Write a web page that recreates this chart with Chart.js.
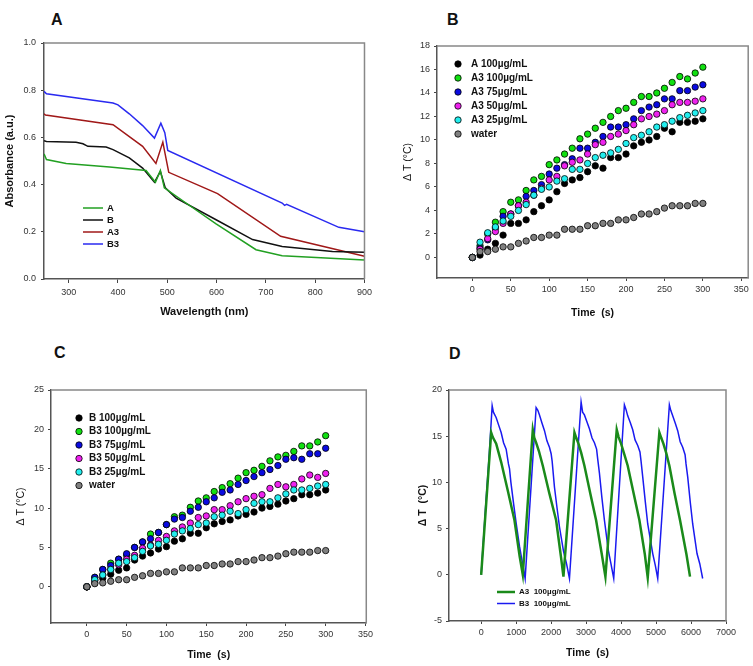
<!DOCTYPE html>
<html>
<head>
<meta charset="utf-8">
<script src="https://cdn.jsdelivr.net/npm/chart.js@4.4.0/dist/chart.umd.min.js"></script>
<style>
  body { margin: 0; background: #fff; width: 753px; height: 666px; position: relative; overflow: hidden; font-family: "Liberation Sans", Arial, sans-serif; }
  .pane { position: absolute; }
  .tag { position: absolute; font-weight: bold; font-size: 16px; color: #111; line-height: 1; }
</style>
</head>
<body>
<div class="tag" style="left:51px;top:12px">A</div>
<div class="tag" style="left:447px;top:12px">B</div>
<div class="tag" style="left:54px;top:345px">C</div>
<div class="tag" style="left:449px;top:346px">D</div>

<canvas class="pane" id="cA" width="376" height="325" style="left:0;top:0"></canvas>
<canvas class="pane" id="cB" width="377" height="325" style="left:376px;top:0"></canvas>
<canvas class="pane" id="cC" width="376" height="336" style="left:0;top:330px"></canvas>
<canvas class="pane" id="cD" width="377" height="336" style="left:376px;top:330px"></canvas>

<script>
// ---- panel A: absorbance spectra
const wlA  = [250, 255, 295, 383, 457, 476, 486, 494, 538, 599, 680, 733, 900];
const absA = [0.53, 0.506, 0.489, 0.475, 0.46, 0.41, 0.46, 0.386, 0.322, 0.234, 0.124, 0.099, 0.08];
const wlB  = [250, 255, 315, 329, 339, 376, 390, 423, 450, 474, 486, 496, 518, 599, 673, 733, 835, 900];
const absB = [0.586, 0.583, 0.579, 0.573, 0.562, 0.559, 0.548, 0.513, 0.47, 0.41, 0.456, 0.386, 0.343, 0.251, 0.167, 0.138, 0.117, 0.113];
const wlA3  = [250, 253, 390, 450, 477, 491, 503, 602, 730, 900];
const absA3 = [0.70, 0.695, 0.654, 0.562, 0.49, 0.58, 0.452, 0.362, 0.181, 0.096];
const wlB3  = [250, 255, 390, 400, 423, 450, 474, 487, 495, 501, 733, 738, 742, 848, 900];
const absB3 = [0.795, 0.785, 0.746, 0.738, 0.70, 0.65, 0.597, 0.66, 0.62, 0.545, 0.322, 0.312, 0.316, 0.219, 0.2];

// ---- panels B and C: heating curves, one point every 10 s
const timeS = [0, 10, 20, 30, 40, 50, 60, 70, 80, 90, 100, 110, 120, 130, 140, 150, 160, 170, 180, 190, 200, 210, 220, 230, 240, 250, 260, 270, 280, 290, 300];
const bA100  = [0, 0.2, 0.7, 1.2, 1.9, 2.9, 2.9, 3.2, 3.9, 4.4, 4.9, 5.6, 6.3, 6.6, 6.8, 7.3, 7.8, 7.6, 8.5, 8.5, 8.8, 9.5, 9.8, 10.0, 10.3, 11.0, 10.7, 11.5, 11.5, 11.6, 11.8];
const bA3100 = [0, 1.0, 2.0, 3.0, 3.9, 4.7, 4.9, 5.7, 6.6, 6.9, 7.9, 8.3, 8.8, 9.3, 10.1, 10.5, 11.0, 11.5, 12.0, 12.5, 12.7, 13.2, 13.7, 13.7, 14.0, 14.4, 14.9, 15.4, 15.2, 15.7, 16.2];
const bA375  = [0, 0.8, 1.5, 2.5, 3.5, 3.7, 4.4, 5.2, 5.7, 6.2, 7.1, 7.6, 7.9, 8.4, 9.3, 9.3, 9.8, 10.3, 11.1, 11.1, 11.3, 11.8, 12.5, 12.8, 13.0, 13.5, 13.5, 14.2, 14.2, 14.5, 14.7];
const bA350  = [0, 0.7, 1.6, 2.2, 2.9, 3.7, 4.4, 4.7, 5.3, 5.9, 6.6, 6.9, 7.8, 8.1, 8.3, 8.8, 9.6, 9.8, 10.3, 10.5, 10.8, 11.3, 11.8, 12.0, 12.2, 12.5, 13.0, 13.2, 13.2, 13.3, 13.5];
const bA325  = [0, 1.3, 2.1, 2.6, 3.1, 3.5, 4.0, 4.5, 5.3, 5.8, 6.0, 6.5, 6.7, 7.5, 7.5, 8.0, 8.5, 8.7, 8.9, 9.2, 9.7, 10.2, 10.4, 10.7, 11.1, 11.3, 11.6, 11.9, 12.1, 12.3, 12.5];
const water  = [0, 0.5, 0.5, 0.7, 0.9, 0.9, 1.2, 1.4, 1.7, 1.7, 1.9, 1.9, 2.4, 2.4, 2.4, 2.7, 2.7, 2.9, 2.9, 3.2, 3.2, 3.4, 3.7, 3.7, 3.9, 4.2, 4.4, 4.4, 4.4, 4.6, 4.6];

const cB100  = [0, 0.5, 1.1, 1.6, 2.1, 2.4, 3.4, 3.9, 4.3, 4.8, 5.1, 5.8, 6.1, 6.8, 6.8, 7.5, 8.0, 8.3, 8.5, 9.0, 9.2, 9.5, 10.0, 10.2, 10.5, 10.9, 11.2, 11.7, 11.7, 11.9, 12.3];
const cB3100 = [0, 1.2, 2.2, 3.0, 3.5, 4.0, 5.0, 5.7, 6.7, 6.9, 7.9, 8.9, 9.1, 10.1, 10.9, 11.3, 12.1, 12.6, 13.1, 13.8, 14.5, 14.8, 15.3, 16.0, 16.5, 16.7, 17.2, 17.9, 17.9, 18.4, 19.2];
const cB375  = [0, 1.2, 2.2, 2.7, 3.5, 4.2, 5.0, 5.7, 6.1, 6.9, 7.9, 8.6, 8.8, 9.6, 10.1, 10.8, 11.3, 12.0, 12.3, 13.0, 13.5, 14.0, 14.5, 14.9, 15.4, 16.2, 16.4, 16.2, 16.9, 16.9, 17.6];
const cB350  = [0, 0.8, 1.5, 2.2, 2.8, 3.5, 4.0, 4.9, 5.3, 5.9, 6.4, 7.1, 7.6, 8.1, 8.8, 9.0, 9.8, 9.8, 10.3, 10.8, 11.2, 11.5, 11.7, 12.5, 13.0, 12.7, 13.0, 13.7, 14.2, 13.9, 14.4];
const cB325  = [0, 0.9, 1.5, 2.2, 3.0, 3.2, 3.7, 4.5, 5.2, 5.4, 5.9, 6.7, 7.1, 7.4, 7.9, 8.1, 8.9, 9.1, 9.6, 9.3, 9.8, 10.6, 10.8, 10.8, 11.3, 11.8, 12.3, 12.3, 12.5, 12.8, 13.0];
const cWater = [0, 0.4, 0.5, 0.7, 0.9, 0.9, 1.2, 1.4, 1.7, 1.7, 1.9, 1.9, 2.4, 2.4, 2.4, 2.7, 2.7, 2.9, 2.9, 3.2, 3.2, 3.4, 3.7, 3.7, 3.9, 4.2, 4.4, 4.4, 4.4, 4.6, 4.6];

// ---- panel D: on/off cycles
const dTimeA3 = [0, 286, 330, 429, 500, 571, 762, 952, 1100, 1190,
  1476, 1520, 1571, 1650, 1762, 1950, 2143, 2280, 2352,
  2667, 2720, 2781, 2860, 2952, 3120, 3286, 3450, 3552,
  3876, 3930, 4000, 4080, 4190, 4360, 4524, 4680, 4762,
  5095, 5150, 5210, 5290, 5381, 5530, 5686, 5870, 5971];
const dTempA3 = [0, 15.4, 14.9, 14.2, 13.2, 12.2, 9.1, 5.9, 2.0, 0,
  15.7, 14.8, 14.3, 13.4, 11.8, 8.8, 5.9, 2.0, -0.2,
  15.4, 14.8, 14.2, 13.2, 11.8, 8.8, 5.9, 2.2, -0.2,
  15.7, 14.9, 14.2, 13.2, 11.8, 8.8, 5.9, 2.2, -0.3,
  15.4, 14.8, 14.2, 13.2, 11.8, 8.8, 5.9, 2.2, -0.2];
const dTimeB3 = [0, 120, 230, 314, 350, 430, 500, 571, 640, 714, 780, 810, 850, 930, 1000, 1095, 1180, 1257,
  1571, 1620, 1667, 1740, 1810, 1880, 1952, 2000, 2029, 2095, 2170, 2238, 2352, 2440, 2524,
  2857, 2900, 2952, 3020, 3095, 3170, 3238, 3300, 3333, 3381, 3450, 3524, 3638, 3710, 3790,
  4095, 4140, 4190, 4260, 4333, 4400, 4476, 4540, 4571, 4619, 4690, 4762, 4905, 4980, 5048,
  5381, 5420, 5476, 5550, 5619, 5690, 5762, 5830, 5857, 5905, 5980, 6048, 6171, 6250, 6333];
const dTempB3 = [0, 7.0, 13.0, 18.3, 17.6, 17.0, 16.2, 15.4, 14.3, 13.6, 12.0, 11.5, 10.0, 7.6, 5.6, 3.1, 1.3, -0.4,
  18.1, 17.8, 17.3, 16.4, 15.6, 14.5, 13.8, 13.1, 12.3, 9.5, 7.2, 5.2, 2.6, 1.2, -0.4,
  18.7, 17.6, 17.3, 16.6, 15.8, 14.8, 14.3, 13.6, 12.5, 11.0, 8.4, 5.9, 2.6, 1.2, -0.4,
  18.4, 17.9, 17.2, 16.5, 15.7, 14.6, 14.0, 13.3, 12.3, 10.6, 8.0, 5.5, 2.3, 1.0, -0.4,
  18.4, 17.8, 17.2, 16.4, 15.6, 14.4, 13.8, 13.0, 12.0, 10.6, 7.8, 5.5, 2.3, 1.2, -0.4];

// tick labels
const ticksA_x = [300, 400, 500, 600, 700, 800, 900];
const ticksA_y = [0, 0.2, 0.4, 0.6, 0.8, 1.0];
const ticksB_x = [0, 50, 100, 150, 200, 250, 300, 350];
const ticksB_y = [0, 2, 4, 6, 8, 10, 12, 14, 16, 18];
const ticksC_y = [0, 5, 10, 15, 20, 25];
const ticksD_x = [0, 1000, 2000, 3000, 4000, 5000, 6000, 7000];
const ticksD_y = [-5, 0, 5, 10, 15, 20];

const FONT = "'Liberation Sans', Arial, sans-serif";
const pts = (xs, ys) => xs.map((x, i) => ({ x: x, y: ys[i] }));

function axis(o) {
  return {
    type: 'linear', min: o.min, max: o.max,
    afterBuildTicks: s => { s.ticks = o.ticks.map(v => ({ value: v })); },
    afterFit: s => { if (o.w) s.width = o.w; if (o.h) s.height = o.h; },
    ticks: { font: { family: FONT, size: 9 }, color: '#333', padding: o.pad || 3, maxRotation: 0, autoSkip: false,
             callback: o.fmt || (v => v) },
    grid: { drawOnChartArea: false, drawTicks: true, tickLength: o.tl || 3, color: '#444' },
    border: { color: '#555', width: 1.5 },
    title: { display: true, text: o.title, color: '#111', padding: o.tpad,
             font: { family: FONT, size: o.ts || 10.5, weight: o.bold === false ? 'normal' : 'bold' } }
  };
}

// grey frame on top and right
const frame = {
  id: 'frame',
  afterDraw(c) {
    const a = c.chartArea, ctx = c.ctx;
    ctx.save();
    ctx.strokeStyle = '#888';
    ctx.lineWidth = 1.5;
    ctx.beginPath();
    ctx.moveTo(a.left, a.top); ctx.lineTo(a.right, a.top); ctx.lineTo(a.right, a.bottom);
    ctx.stroke();
    ctx.restore();
  }
};

// legend drawn inside the plot
const key = {
  id: 'key',
  afterDraw(c, args, o) {
    const ctx = c.ctx;
    ctx.save();
    ctx.font = o.font;
    ctx.textBaseline = 'middle';
    c.data.datasets.forEach((ds, i) => {
      const y = o.y + i * o.dy;
      if (o.line) {
        ctx.strokeStyle = ds.borderColor; ctx.lineWidth = ds.borderWidth;
        ctx.beginPath(); ctx.moveTo(o.x, y); ctx.lineTo(o.x + o.line, y); ctx.stroke();
      } else {
        ctx.beginPath(); ctx.arc(o.x, y, 3.2, 0, Math.PI * 2);
        ctx.fillStyle = ds.backgroundColor; ctx.fill();
        ctx.strokeStyle = '#000'; ctx.lineWidth = 0.8; ctx.stroke();
      }
      ctx.fillStyle = '#111';
      ctx.fillText(ds.label, o.tx, y);
    });
    ctx.restore();
  }
};

function lineSet(label, xs, ys, color, w) {
  return { label: label, data: pts(xs, ys), showLine: true, borderColor: color, backgroundColor: color,
           borderWidth: w, pointRadius: 0, tension: 0 };
}
function dotSet(label, ys, color, n, i) {
  return { label: label, data: pts(timeS, ys), backgroundColor: color, borderColor: '#000',
           borderWidth: 0.8, pointRadius: 3.2, order: n - 1 - i };
}

function makeChart(id, datasets, x, y, pad, legend) {
  return new Chart(document.getElementById(id), {
    type: 'scatter',
    data: { datasets: datasets },
    options: {
      responsive: false, animation: false,
      layout: { padding: pad },
      plugins: { legend: { display: false }, tooltip: { enabled: false }, key: legend },
      scales: { x: x, y: y }
    },
    plugins: [frame, key]
  });
}

// A
makeChart('cA', [
  lineSet('A', wlA, absA, '#22a022', 1.5),
  lineSet('B', wlB, absB, '#111111', 1.5),
  lineSet('A3', wlA3, absA3, '#a01818', 1.5),
  lineSet('B3', wlB3, absB3, '#2a2af0', 1.5)
],
  axis({ min: 250, max: 900, ticks: ticksA_x, title: 'Wavelength (nm)', ts: 11, h: 46, tl: 4, pad: 4, tpad: { top: 0, bottom: 6 } }),
  axis({ min: 0, max: 1.0, ticks: ticksA_y, title: 'Absorbance (a.u.)', ts: 11, w: 44, tl: 3, pad: 5, fmt: v => v.toFixed(1), tpad: { top: 3, bottom: 0 } }),
  { left: 0, top: 43, right: 10, bottom: 0 },
  { x: 83, tx: 107, y: 208, dy: 12, line: 20, font: "bold 9.5px " + FONT });

// B
const namesB = ['A 100µg/mL', 'A3 100µg/mL', 'A3 75µg/mL', 'A3 50µg/mL', 'A3 25µg/mL', 'water'];
const colors = ['#000000', '#11e011', '#0a0ae0', '#ee22ee', '#22eeee', '#808080'];
const seriesB = [bA100, bA3100, bA375, bA350, bA325, water];
makeChart('cB', seriesB.map((s, i) => dotSet(namesB[i], s, colors[i], 6, i)),
  axis({ min: -46, max: 359, ticks: ticksB_x, title: 'Time  (s)', h: 47, tpad: { top: 0, bottom: 6 } }),
  axis({ min: -1.75, max: 18, ticks: ticksB_y, title: 'Δ T (°C)', bold: false, w: 61, pad: 4, tpad: { top: 26, bottom: 0 } }),
  { left: 0, top: 46, right: 4, bottom: 0 },
  { x: 82, tx: 95, y: 64, dy: 14, font: "bold 10px " + FONT });

// C
const namesC = ['B 100µg/mL', 'B3 100µg/mL', 'B3 75µg/mL', 'B3 50µg/mL', 'B3 25µg/mL', 'water'];
const seriesC = [cB100, cB3100, cB375, cB350, cB325, cWater];
makeChart('cC', seriesC.map((s, i) => dotSet(namesC[i], s, colors[i], 6, i)),
  axis({ min: -45, max: 351, ticks: ticksB_x, title: 'Time  (s)', h: 43, tpad: { top: 0, bottom: 5 } }),
  axis({ min: -4.6, max: 25, ticks: ticksC_y, title: 'Δ T (°C)', bold: false, w: 51, pad: 4, tpad: { top: 15, bottom: 0 } }),
  { left: 0, top: 60, right: 1, bottom: 0 },
  { x: 79, tx: 89, y: 88, dy: 13.5, font: "bold 10px " + FONT });

// D
makeChart('cD', [
  lineSet('A3  100µg/mL', dTimeA3, dTempA3, '#1a8a1a', 2.5),
  lineSet('B3  100µg/mL', dTimeB3, dTempB3, '#1a1af0', 1.5)
],
  axis({ min: -920, max: 7000, ticks: ticksD_x, title: 'Time  (s)', h: 45, tpad: { top: 0, bottom: 7 } }),
  axis({ min: -5, max: 20, ticks: ticksD_y, title: 'Δ T  (°C)', w: 73, pad: 4, tpad: { top: 41, bottom: 0 } }),
  { left: 0, top: 60, right: 27, bottom: 0 },
  { x: 121, tx: 143, y: 262, dy: 11.5, line: 18, font: "bold 8px " + FONT });
</script>
</body>
</html>
